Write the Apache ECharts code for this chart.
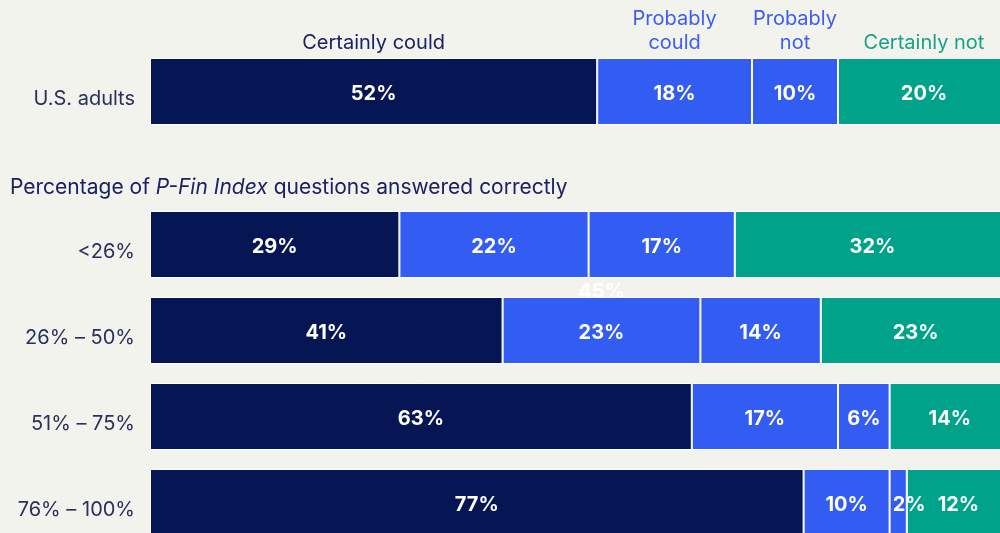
<!DOCTYPE html>
<html><head><meta charset="utf-8">
<script src="https://cdn.jsdelivr.net/npm/echarts@6/dist/echarts.min.js"></script>
<style>html,body{margin:0;padding:0;background:#f3f3ee}#c{width:1000px;height:533px}</style>
</head><body><div id="c"></div>
<script>
const seriesNames = ['Certainly could', 'Probably could', 'Probably not', 'Certainly not'];
const headerLabels = ['Certainly could', 'Probably\ncould', 'Probably\nnot', 'Certainly not'];
const overallCategory = ['U.S. adults'];
const overallValues = [52, 18, 10, 20];
const groupCategories = ['<26%', '26% – 50%', '51% – 75%', '76% – 100%'];
const certainlyCould = [29, 41, 63, 76];
const probablyCould = [22, 23, 17, 10];
const probablyNot = [17, 14, 6, 2];
const certainlyNot = [32, 23, 14, 12];
const certainlyCouldLabels = ['29%', '41%', '63%', '77%'];
const strayLabel = '45%';
const subtitleParts = ['Percentage of ', 'P-Fin Index', ' questions answered correctly'];

const FONT = 'Inter';
const segColors = ['#061655', '#335cf3', '#335cf3', '#00a28a'];
const headColors = ['#1b2163', '#3d5ef0', '#3d5ef0', '#14a38a'];
const groupSeries = [certainlyCould, probablyCould, probablyNot, certainlyNot];

const chart = echarts.init(document.getElementById('c'), null, {renderer: 'canvas'});

function labelCfg(fmt) {
  return {show: true, position: 'inside', offset: [0, 2], color: '#fff', fontFamily: FONT, fontWeight: 'bold', fontSize: 20,
    formatter: fmt};
}
const series = [];
seriesNames.forEach((name, i) => {
  series.push({
    name, type: 'bar', stack: 'a', xAxisIndex: 0, yAxisIndex: 0, barWidth: '100%',
    data: [overallValues[i]],
    itemStyle: {color: segColors[i], borderColor: '#fff', borderWidth: 1},
    label: labelCfg(p => p.value + '%'), z: 3
  });
});
seriesNames.forEach((name, i) => {
  series.push({
    name, type: 'bar', stack: 'b', xAxisIndex: 1, yAxisIndex: 1, barWidth: 67,
    data: groupSeries[i].map(v => ({value: v, label: v < 3 ? {offset: [11, 2]} : undefined})),
    itemStyle: {color: segColors[i], borderColor: '#fff', borderWidth: 1},
    label: labelCfg(p => i === 0 ? certainlyCouldLabels[p.dataIndex] : p.value + '%'), z: 3
  });
});

const yLabel = {margin: 15, fontSize: 20, color: '#2b2f5c', fontFamily: FONT, verticalAlign: 'top', lineHeight: 14};
chart.setOption({
  backgroundColor: '#f3f3ee',
  animation: false,
  grid: [
    {left: 150, top: 58, width: 860, height: 67, outerBoundsMode: 'none', containLabel: false},
    {left: 150, top: 201.5, width: 860, height: 344, outerBoundsMode: 'none', containLabel: false}
  ],
  xAxis: [
    {gridIndex: 0, type: 'value', min: 0, max: 100, show: false},
    {gridIndex: 1, type: 'value', min: 0, max: 100, show: false}
  ],
  yAxis: [
    {gridIndex: 0, type: 'category', data: overallCategory, axisLine: {show: false}, axisTick: {show: false}, axisLabel: yLabel},
    {gridIndex: 1, type: 'category', inverse: true, data: groupCategories, axisLine: {show: false}, axisTick: {show: false}, axisLabel: yLabel}
  ],
  series
});

// Headers above the U.S. adults bar, centred on each segment
const graphics = [];
let cum = 0;
overallValues.forEach((v, i) => {
  const x = chart.convertToPixel({xAxisIndex: 0}, cum + v / 2);
  cum += v;
  graphics.push({type: 'text', x, y: 55, z: 5,
    style: {text: headerLabels[i], fill: headColors[i], font: '20px ' + FONT, textAlign: 'center', textVerticalAlign: 'bottom', lineHeight: 24}});
});
graphics.push({type: 'text', x: 10, y: 188, z: 5,
  style: {rich: {n: {fontFamily: FONT, fontSize: 21, fill: '#1b2163'}, i: {fontFamily: FONT, fontSize: 21, fontStyle: 'italic', fill: '#1b2163'}},
    text: '{n|' + subtitleParts[0] + '}{i|' + subtitleParts[1] + '}{n|' + subtitleParts[2] + '}', textVerticalAlign: 'middle'}});
// faint stray label partly hidden behind the second group row
const sx = chart.convertToPixel({xAxisIndex: 1}, 52.5);
const sy = (chart.convertToPixel({yAxisIndex: 1}, groupCategories[0]) + chart.convertToPixel({yAxisIndex: 1}, groupCategories[1])) / 2 + 4;
graphics.push({type: 'text', x: sx, y: sy, z: 0, zlevel: 0,
  style: {text: strayLabel, fill: '#ffffff', font: 'bold 20px ' + FONT, textAlign: 'center', textVerticalAlign: 'middle'}});
chart.setOption({graphic: graphics});
</script></body></html>
